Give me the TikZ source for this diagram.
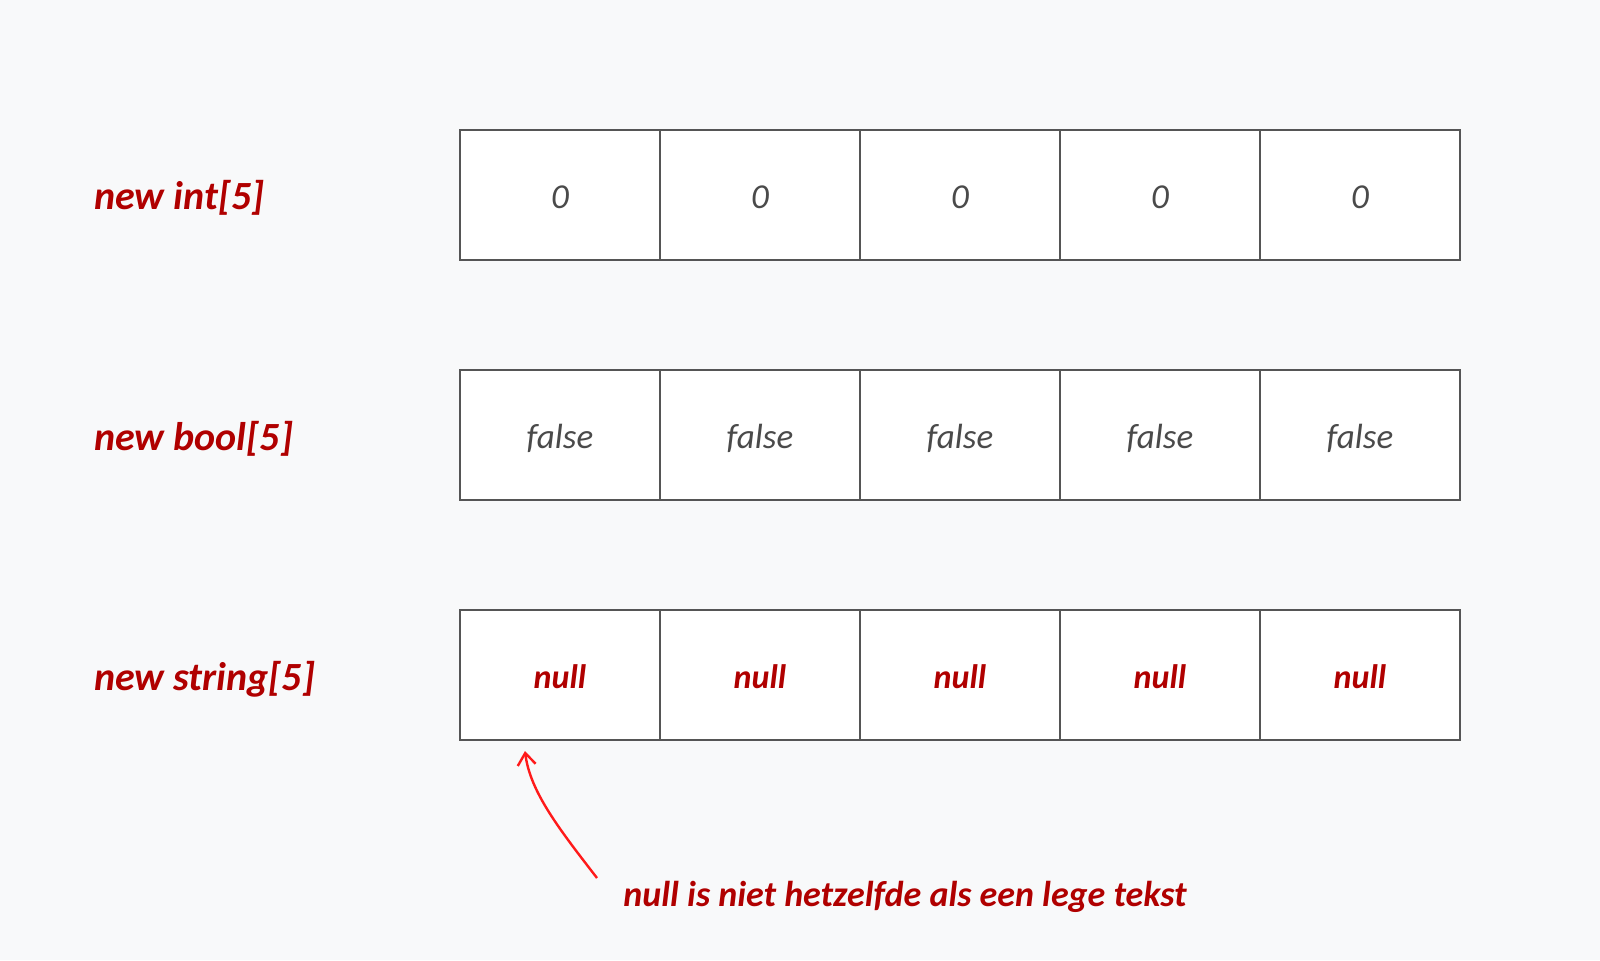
\documentclass[tikz,border=0pt]{standalone}
\usepackage{fontspec}
\setmainfont{Carlito}
\usetikzlibrary{arrows.meta}
\definecolor{bg}{HTML}{F8F9FA}
\definecolor{lab}{HTML}{B00000}
\definecolor{cellink}{HTML}{4A4A4A}
\definecolor{edge}{HTML}{555555}
\definecolor{arrowred}{HTML}{FF1A1A}
\newcommand{\cellval}[1]{\raisebox{-6.5pt}[0pt][0pt]{#1}}
\begin{document}
\begin{tikzpicture}[x=0.5pt,y=-0.5pt,
  cell/.style={draw=edge, fill=white, line width=1.1pt, minimum width=100pt,
    minimum height=65pt, inner sep=0pt, text=cellink,
    font=\itshape\fontsize{17.5}{20}\selectfont},
  nullcell/.style={cell, text=lab, font=\bfseries\itshape\fontsize{17}{20}\selectfont},
  rowlabel/.style={anchor=base west, inner sep=0pt, text=lab,
    font=\bfseries\itshape\fontsize{20}{24}\selectfont},
  note/.style={anchor=base west, inner sep=0pt, text=lab,
    font=\bfseries\itshape\fontsize{18}{22}\selectfont},
  pointer/.style={draw=arrowred, line width=1.2pt,
    -{Straight Barb[length=6pt,width=9pt]}}]
\fill[bg] (0,0) rectangle (1600,960);
\useasboundingbox (0,0) rectangle (1600,960);

% row labels
\node[rowlabel] (lint) at (94,209) {new int[5]};
\node[rowlabel] (lbool) at (94,450) {new bool[5]};
\node[rowlabel] (lstr) at (94,690) {new string[5]};

% int row
\foreach \i in {1,...,5}{
  \node[cell] (a\i) at ({360+200*\i},195) {\cellval{0}};
}
% bool row
\foreach \i in {1,...,5}{
  \node[cell] (b\i) at ({360+200*\i},435) {\cellval{false}};
}
% string row
\foreach \i in {1,...,5}{
  \node[nullcell] (c\i) at ({360+200*\i},675) {\cellval{null}};
}

% annotation
\node[note] (nb) at (623,906) {null is niet hetzelfde als een lege tekst};
\coordinate (pstart) at (597,878);
\coordinate (pend) at (525,751);
\draw[pointer] (pstart) .. controls (560,830) and (530,792) .. (pend);
\end{tikzpicture}
\end{document}
